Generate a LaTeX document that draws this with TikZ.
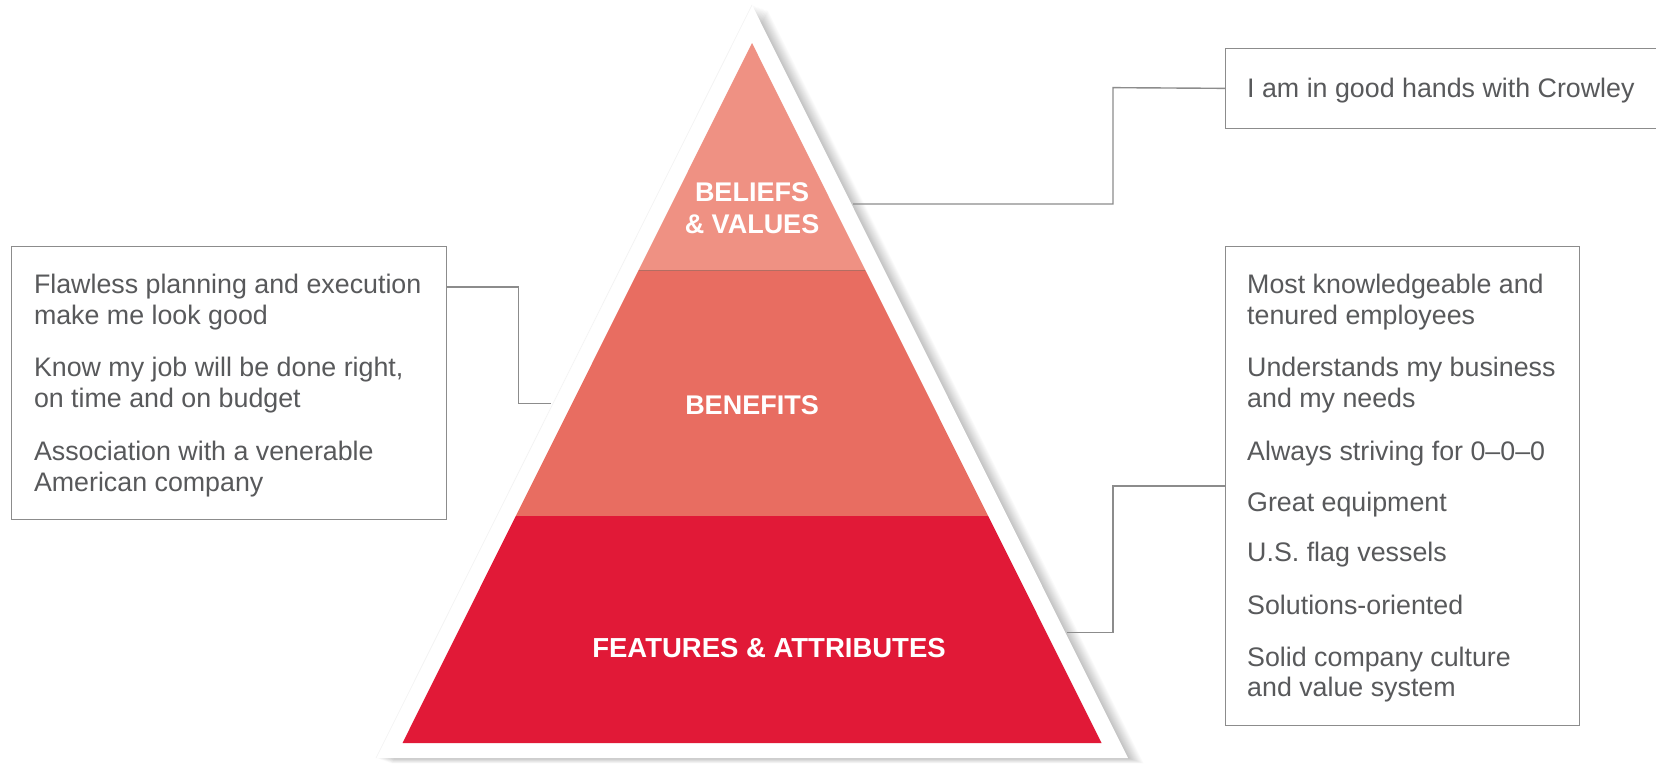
\documentclass[tikz,border=0pt]{standalone}
\usepackage{fontspec}
\setmainfont{Liberation Sans}
\usetikzlibrary{calc}
\definecolor{beliefc}{HTML}{EF9183}
\definecolor{benefitc}{HTML}{E86D61}
\definecolor{featc}{HTML}{E11937}
\definecolor{txtgray}{HTML}{58595B}
\definecolor{linegray}{HTML}{8C8C8C}
\tikzset{
  infobox/.style={draw=linegray, line width=1.4pt, fill=white, inner sep=0pt, anchor=north west},
  conn/.style={draw=linegray, line width=1.4pt},
  boxtext/.style={anchor=base west, inner sep=0pt, text=txtgray, font=\fontsize{26.8}{30.7}\selectfont},
  pyrlabel/.style={anchor=base, inner sep=0pt, text=white, font=\bfseries\fontsize{27}{32}\selectfont}
}
\begin{document}
\begin{tikzpicture}[x=1pt,y=-1pt]
\useasboundingbox (0,0) rectangle (1656,763);
\clip (0,0) rectangle (1656,763);
\fill[white] (0,0) rectangle (1656,763);

% shadow of the white frame
\foreach \k in {1,...,12}{
  \fill[black, opacity=0.02] (752+\k*1.3,5+\k*0.45) -- (1128+\k*1.3,758+\k*0.45) -- (376+\k*1.3,758+\k*0.45) -- cycle;
}
% white frame
\fill[white] (752,5) -- (1128,758) -- (376,758) -- cycle;
\draw[black!5, line width=0.6pt] (376,758) -- (752,5);

% pyramid bands
\fill[beliefc] (752,43) -- (865.3,270) -- (638.7,270) -- cycle;
\fill[benefitc] (638.7,270) -- (865.3,270) -- (988.2,516) -- (515.8,516) -- cycle;
\fill[featc] (515.8,516) -- (988.2,516) -- (1101.5,743) -- (402.5,743) -- cycle;
\draw[black!25!beliefc, line width=0.6pt] (638.7,270) -- (865.3,270);

% pyramid labels
\node[pyrlabel] (lblBel) at (752,201) {\parbox[t]{300pt}{\centering BELIEFS\\\& VALUES}};
\node[pyrlabel] (lblBen) at (752,414) {BENEFITS};
\node[pyrlabel, font=\bfseries\fontsize{27.5}{32}\selectfont] (lblFeat) at (769,657.5) {FEATURES \& ATTRIBUTES};

% boxes
\node[infobox, minimum width=435pt, minimum height=272.5pt] (lbox) at (10.6,246) {};
\node[infobox, minimum width=480pt, minimum height=80.3pt] (tbox) at (1225,47.5) {};
\node[infobox, minimum width=354pt, minimum height=478.5pt] (rbox) at (1225,246) {};

% box texts
\node[boxtext] (ltext) at (33.8,293.5) {\parbox[t]{420pt}{\raggedright
Flawless planning and execution\\
make me look good\\[22pt]
Know my job will be done right,\\
on time and on budget\\[22pt]
Association with a venerable\\
American company}};
\node[boxtext] (ttext) at (1247,97) {I am in good hands with Crowley};
\node[boxtext] (rtext) at (1247,293.5) {\parbox[t]{340pt}{\raggedright
Most knowledgeable and\\
tenured employees\\[22pt]
Understands my business\\
and my needs\\[22pt]
Always striving for 0--0--0\\[20.3pt]
Great equipment\\[19.8pt]
U.S. flag vessels\\[21.5pt]
Solutions-oriented\\[21.5pt]
Solid company culture\\
and value system}};

% attachment points on the pyramid frame
\coordinate (pBel) at (853,204);
\coordinate (pBen) at (551,403.4);
\coordinate (pFeat) at (1066.7,632.6);
\coordinate (lj) at (0,287);

% connectors
\draw[conn] (pBel) -| (1113,87.65) -- (tbox.west);
\draw[conn] (lbox.east |- lj) -| (518.5,403.4) -- (pBen);
\draw[conn] (rbox.west) -| (1113,632.6) -- (pFeat);
\end{tikzpicture}
\end{document}
